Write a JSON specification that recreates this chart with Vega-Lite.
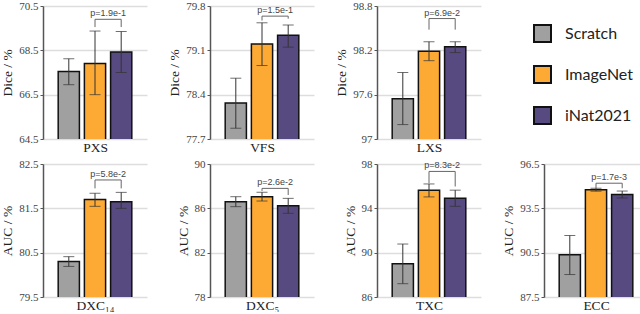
{
"$schema":"https://vega.github.io/schema/vega-lite/v6.json",
"background":"white",
"padding":{"left":0,"top":0,"right":0,"bottom":0},
"datasets":{
"bars":[
{"panel":"PXS","model":"Scratch","value":67.55,"lo":66.95,"hi":68.12},
{"panel":"PXS","model":"ImageNet","value":67.91,"lo":66.5,"hi":69.37},
{"panel":"PXS","model":"iNat2021","value":68.42,"lo":67.5,"hi":69.35},
{"panel":"VFS","model":"Scratch","value":78.27,"lo":77.87,"hi":78.66},
{"panel":"VFS","model":"ImageNet","value":79.2,"lo":78.86,"hi":79.535},
{"panel":"VFS","model":"iNat2021","value":79.34,"lo":79.15,"hi":79.5},
{"panel":"LXS","model":"Scratch","value":97.546,"lo":97.195,"hi":97.9},
{"panel":"LXS","model":"ImageNet","value":98.186,"lo":98.06,"hi":98.316},
{"panel":"LXS","model":"iNat2021","value":98.25,"lo":98.17,"hi":98.316},
{"panel":"DXC14","model":"Scratch","value":80.3,"lo":80.19,"hi":80.41},
{"panel":"DXC14","model":"ImageNet","value":81.7,"lo":81.545,"hi":81.84},
{"panel":"DXC14","model":"iNat2021","value":81.65,"lo":81.5,"hi":81.86},
{"panel":"DXC5","model":"Scratch","value":86.6,"lo":86.15,"hi":87.05},
{"panel":"DXC5","model":"ImageNet","value":87.05,"lo":86.66,"hi":87.45},
{"panel":"DXC5","model":"iNat2021","value":86.24,"lo":85.55,"hi":86.9},
{"panel":"TXC","model":"Scratch","value":89.0,"lo":87.2,"hi":90.78},
{"panel":"TXC","model":"ImageNet","value":95.64,"lo":95.03,"hi":96.2},
{"panel":"TXC","model":"iNat2021","value":94.9,"lo":94.18,"hi":95.64},
{"panel":"ECC","model":"Scratch","value":90.36,"lo":89.02,"hi":91.66},
{"panel":"ECC","model":"ImageNet","value":94.75,"lo":94.66,"hi":94.86},
{"panel":"ECC","model":"iNat2021","value":94.43,"lo":94.2,"hi":94.67}
],
"br":[
{"panel":"PXS","model":"ImageNet","y":69.55,"k":1},{"panel":"PXS","model":"ImageNet","y":69.9,"k":2},{"panel":"PXS","model":"iNat2021","y":69.9,"k":3},{"panel":"PXS","model":"iNat2021","y":69.55,"k":4},
{"panel":"VFS","model":"ImageNet","y":79.57,"k":1},{"panel":"VFS","model":"ImageNet","y":79.64,"k":2},{"panel":"VFS","model":"iNat2021","y":79.64,"k":3},{"panel":"VFS","model":"iNat2021","y":79.6,"k":4},
{"panel":"LXS","model":"ImageNet","y":98.48,"k":1},{"panel":"LXS","model":"ImageNet","y":98.63,"k":2},{"panel":"LXS","model":"iNat2021","y":98.63,"k":3},{"panel":"LXS","model":"iNat2021","y":98.48,"k":4},
{"panel":"DXC14","model":"ImageNet","y":81.95,"k":1},{"panel":"DXC14","model":"ImageNet","y":82.14,"k":2},{"panel":"DXC14","model":"iNat2021","y":82.14,"k":3},{"panel":"DXC14","model":"iNat2021","y":81.95,"k":4},
{"panel":"DXC5","model":"ImageNet","y":87.57,"k":1},{"panel":"DXC5","model":"ImageNet","y":87.8,"k":2},{"panel":"DXC5","model":"iNat2021","y":87.8,"k":3},{"panel":"DXC5","model":"iNat2021","y":87.2,"k":4},
{"panel":"TXC","model":"ImageNet","y":96.27,"k":1},{"panel":"TXC","model":"ImageNet","y":97.33,"k":2},{"panel":"TXC","model":"iNat2021","y":97.33,"k":3},{"panel":"TXC","model":"iNat2021","y":95.97,"k":4},
{"panel":"ECC","model":"ImageNet","y":94.86,"k":1},{"panel":"ECC","model":"ImageNet","y":95.2,"k":2},{"panel":"ECC","model":"iNat2021","y":95.2,"k":3},{"panel":"ECC","model":"iNat2021","y":94.86,"k":4}
],
"pv":[
{"panel":"PXS","model":"ImageNet","y":69.9,"p":"p=1.9e-1"},
{"panel":"VFS","model":"ImageNet","y":79.64,"p":"p=1.5e-1"},
{"panel":"LXS","model":"ImageNet","y":98.63,"p":"p=6.9e-2"},
{"panel":"DXC14","model":"ImageNet","y":82.14,"p":"p=5.8e-2"},
{"panel":"DXC5","model":"ImageNet","y":87.8,"p":"p=2.6e-2"},
{"panel":"TXC","model":"ImageNet","y":97.33,"p":"p=8.3e-2"},
{"panel":"ECC","model":"ImageNet","y":95.2,"p":"p=1.7e-3"}
]
},
"spacing":4,
"vconcat":[
{"bounds":"flush","spacing":63,"hconcat":[
{"width":104,"height":133,"layer":[
{"data":{"name":"bars"},"transform":[{"filter":"datum.panel==='PXS'"}],"mark":{"type":"bar","clip":true,"stroke":"#111","strokeWidth":1.5},"encoding":{"x":{"field":"model","type":"nominal","sort":["Scratch","ImageNet","iNat2021"],"title":"PXS"},"y":{"field":"value","type":"quantitative","scale":{"domain":[64.5,70.5],"nice":false,"zero":false},"axis":{"values":[64.5,66.5,68.5,70.5]},"title":"Dice / %"},"color":{"field":"model","type":"nominal","title":null,"scale":{"domain":["Scratch","ImageNet","iNat2021"],"range":["#a0a0a0","#fdaa34","#574a80"]}}}},
{"data":{"name":"bars"},"transform":[{"filter":"datum.panel==='PXS'"}],"mark":{"type":"rule","color":"#333"},"encoding":{"x":{"field":"model","type":"nominal","sort":["Scratch","ImageNet","iNat2021"]},"y":{"field":"lo","type":"quantitative"},"y2":{"field":"hi"}}},
{"data":{"name":"bars"},"transform":[{"filter":"datum.panel==='PXS'"}],"mark":{"type":"tick","color":"#333","size":11,"thickness":1},"encoding":{"x":{"field":"model","type":"nominal","sort":["Scratch","ImageNet","iNat2021"]},"y":{"field":"lo","type":"quantitative"}}},
{"data":{"name":"bars"},"transform":[{"filter":"datum.panel==='PXS'"}],"mark":{"type":"tick","color":"#333","size":11,"thickness":1},"encoding":{"x":{"field":"model","type":"nominal","sort":["Scratch","ImageNet","iNat2021"]},"y":{"field":"hi","type":"quantitative"}}},
{"data":{"name":"br"},"transform":[{"filter":"datum.panel==='PXS'"}],"mark":{"type":"line","color":"#666","strokeWidth":1},"encoding":{"x":{"field":"model","type":"nominal","sort":["Scratch","ImageNet","iNat2021"]},"y":{"field":"y","type":"quantitative"},"order":{"field":"k","type":"quantitative"}}},
{"data":{"name":"pv"},"transform":[{"filter":"datum.panel==='PXS'"}],"mark":{"type":"text","font":"Liberation Sans","fontSize":9,"baseline":"bottom","dy":-1,"color":"#444"},"encoding":{"x":{"field":"model","type":"nominal","sort":["Scratch","ImageNet","iNat2021"],"bandPosition":1.116},"y":{"field":"y","type":"quantitative"},"text":{"field":"p"}}}
]},
{"width":104,"height":133,"layer":[
{"data":{"name":"bars"},"transform":[{"filter":"datum.panel==='VFS'"}],"mark":{"type":"bar","clip":true,"stroke":"#111","strokeWidth":1.5},"encoding":{"x":{"field":"model","type":"nominal","sort":["Scratch","ImageNet","iNat2021"],"title":"VFS"},"y":{"field":"value","type":"quantitative","scale":{"domain":[77.7,79.8],"nice":false,"zero":false},"axis":{"values":[77.7,78.4,79.1,79.8]},"title":"Dice / %"},"color":{"field":"model","type":"nominal","title":null,"scale":{"domain":["Scratch","ImageNet","iNat2021"],"range":["#a0a0a0","#fdaa34","#574a80"]}}}},
{"data":{"name":"bars"},"transform":[{"filter":"datum.panel==='VFS'"}],"mark":{"type":"rule","color":"#333"},"encoding":{"x":{"field":"model","type":"nominal","sort":["Scratch","ImageNet","iNat2021"]},"y":{"field":"lo","type":"quantitative"},"y2":{"field":"hi"}}},
{"data":{"name":"bars"},"transform":[{"filter":"datum.panel==='VFS'"}],"mark":{"type":"tick","color":"#333","size":11,"thickness":1},"encoding":{"x":{"field":"model","type":"nominal","sort":["Scratch","ImageNet","iNat2021"]},"y":{"field":"lo","type":"quantitative"}}},
{"data":{"name":"bars"},"transform":[{"filter":"datum.panel==='VFS'"}],"mark":{"type":"tick","color":"#333","size":11,"thickness":1},"encoding":{"x":{"field":"model","type":"nominal","sort":["Scratch","ImageNet","iNat2021"]},"y":{"field":"hi","type":"quantitative"}}},
{"data":{"name":"br"},"transform":[{"filter":"datum.panel==='VFS'"}],"mark":{"type":"line","color":"#666","strokeWidth":1},"encoding":{"x":{"field":"model","type":"nominal","sort":["Scratch","ImageNet","iNat2021"]},"y":{"field":"y","type":"quantitative"},"order":{"field":"k","type":"quantitative"}}},
{"data":{"name":"pv"},"transform":[{"filter":"datum.panel==='VFS'"}],"mark":{"type":"text","font":"Liberation Sans","fontSize":9,"baseline":"bottom","dy":-1,"color":"#444"},"encoding":{"x":{"field":"model","type":"nominal","sort":["Scratch","ImageNet","iNat2021"],"bandPosition":1.116},"y":{"field":"y","type":"quantitative"},"text":{"field":"p"}}}
]},
{"width":104,"height":133,"layer":[
{"data":{"name":"bars"},"transform":[{"filter":"datum.panel==='LXS'"}],"mark":{"type":"bar","clip":true,"stroke":"#111","strokeWidth":1.5},"encoding":{"x":{"field":"model","type":"nominal","sort":["Scratch","ImageNet","iNat2021"],"title":"LXS"},"y":{"field":"value","type":"quantitative","scale":{"domain":[97,98.8],"nice":false,"zero":false},"axis":{"values":[97,97.6,98.2,98.8]},"title":"Dice / %"},"color":{"field":"model","type":"nominal","title":null,"scale":{"domain":["Scratch","ImageNet","iNat2021"],"range":["#a0a0a0","#fdaa34","#574a80"]}}}},
{"data":{"name":"bars"},"transform":[{"filter":"datum.panel==='LXS'"}],"mark":{"type":"rule","color":"#333"},"encoding":{"x":{"field":"model","type":"nominal","sort":["Scratch","ImageNet","iNat2021"]},"y":{"field":"lo","type":"quantitative"},"y2":{"field":"hi"}}},
{"data":{"name":"bars"},"transform":[{"filter":"datum.panel==='LXS'"}],"mark":{"type":"tick","color":"#333","size":11,"thickness":1},"encoding":{"x":{"field":"model","type":"nominal","sort":["Scratch","ImageNet","iNat2021"]},"y":{"field":"lo","type":"quantitative"}}},
{"data":{"name":"bars"},"transform":[{"filter":"datum.panel==='LXS'"}],"mark":{"type":"tick","color":"#333","size":11,"thickness":1},"encoding":{"x":{"field":"model","type":"nominal","sort":["Scratch","ImageNet","iNat2021"]},"y":{"field":"hi","type":"quantitative"}}},
{"data":{"name":"br"},"transform":[{"filter":"datum.panel==='LXS'"}],"mark":{"type":"line","color":"#666","strokeWidth":1},"encoding":{"x":{"field":"model","type":"nominal","sort":["Scratch","ImageNet","iNat2021"]},"y":{"field":"y","type":"quantitative"},"order":{"field":"k","type":"quantitative"}}},
{"data":{"name":"pv"},"transform":[{"filter":"datum.panel==='LXS'"}],"mark":{"type":"text","font":"Liberation Sans","fontSize":9,"baseline":"bottom","dy":-1,"color":"#444"},"encoding":{"x":{"field":"model","type":"nominal","sort":["Scratch","ImageNet","iNat2021"],"bandPosition":1.116},"y":{"field":"y","type":"quantitative"},"text":{"field":"p"}}}
]}
]},
{"bounds":"flush","spacing":63,"hconcat":[
{"width":104,"height":133,"layer":[
{"data":{"name":"bars"},"transform":[{"filter":"datum.panel==='DXC14'"}],"mark":{"type":"bar","clip":true,"stroke":"#111","strokeWidth":1.5},"encoding":{"x":{"field":"model","type":"nominal","sort":["Scratch","ImageNet","iNat2021"],"title":"DXC₁₄"},"y":{"field":"value","type":"quantitative","scale":{"domain":[79.5,82.5],"nice":false,"zero":false},"axis":{"values":[79.5,80.5,81.5,82.5]},"title":"AUC / %"},"color":{"field":"model","type":"nominal","title":null,"scale":{"domain":["Scratch","ImageNet","iNat2021"],"range":["#a0a0a0","#fdaa34","#574a80"]}}}},
{"data":{"name":"bars"},"transform":[{"filter":"datum.panel==='DXC14'"}],"mark":{"type":"rule","color":"#333"},"encoding":{"x":{"field":"model","type":"nominal","sort":["Scratch","ImageNet","iNat2021"]},"y":{"field":"lo","type":"quantitative"},"y2":{"field":"hi"}}},
{"data":{"name":"bars"},"transform":[{"filter":"datum.panel==='DXC14'"}],"mark":{"type":"tick","color":"#333","size":11,"thickness":1},"encoding":{"x":{"field":"model","type":"nominal","sort":["Scratch","ImageNet","iNat2021"]},"y":{"field":"lo","type":"quantitative"}}},
{"data":{"name":"bars"},"transform":[{"filter":"datum.panel==='DXC14'"}],"mark":{"type":"tick","color":"#333","size":11,"thickness":1},"encoding":{"x":{"field":"model","type":"nominal","sort":["Scratch","ImageNet","iNat2021"]},"y":{"field":"hi","type":"quantitative"}}},
{"data":{"name":"br"},"transform":[{"filter":"datum.panel==='DXC14'"}],"mark":{"type":"line","color":"#666","strokeWidth":1},"encoding":{"x":{"field":"model","type":"nominal","sort":["Scratch","ImageNet","iNat2021"]},"y":{"field":"y","type":"quantitative"},"order":{"field":"k","type":"quantitative"}}},
{"data":{"name":"pv"},"transform":[{"filter":"datum.panel==='DXC14'"}],"mark":{"type":"text","font":"Liberation Sans","fontSize":9,"baseline":"bottom","dy":-1,"color":"#444"},"encoding":{"x":{"field":"model","type":"nominal","sort":["Scratch","ImageNet","iNat2021"],"bandPosition":1.116},"y":{"field":"y","type":"quantitative"},"text":{"field":"p"}}}
]},
{"width":104,"height":133,"layer":[
{"data":{"name":"bars"},"transform":[{"filter":"datum.panel==='DXC5'"}],"mark":{"type":"bar","clip":true,"stroke":"#111","strokeWidth":1.5},"encoding":{"x":{"field":"model","type":"nominal","sort":["Scratch","ImageNet","iNat2021"],"title":"DXC₅"},"y":{"field":"value","type":"quantitative","scale":{"domain":[78,90],"nice":false,"zero":false},"axis":{"values":[78,82,86,90]},"title":"AUC / %"},"color":{"field":"model","type":"nominal","title":null,"scale":{"domain":["Scratch","ImageNet","iNat2021"],"range":["#a0a0a0","#fdaa34","#574a80"]}}}},
{"data":{"name":"bars"},"transform":[{"filter":"datum.panel==='DXC5'"}],"mark":{"type":"rule","color":"#333"},"encoding":{"x":{"field":"model","type":"nominal","sort":["Scratch","ImageNet","iNat2021"]},"y":{"field":"lo","type":"quantitative"},"y2":{"field":"hi"}}},
{"data":{"name":"bars"},"transform":[{"filter":"datum.panel==='DXC5'"}],"mark":{"type":"tick","color":"#333","size":11,"thickness":1},"encoding":{"x":{"field":"model","type":"nominal","sort":["Scratch","ImageNet","iNat2021"]},"y":{"field":"lo","type":"quantitative"}}},
{"data":{"name":"bars"},"transform":[{"filter":"datum.panel==='DXC5'"}],"mark":{"type":"tick","color":"#333","size":11,"thickness":1},"encoding":{"x":{"field":"model","type":"nominal","sort":["Scratch","ImageNet","iNat2021"]},"y":{"field":"hi","type":"quantitative"}}},
{"data":{"name":"br"},"transform":[{"filter":"datum.panel==='DXC5'"}],"mark":{"type":"line","color":"#666","strokeWidth":1},"encoding":{"x":{"field":"model","type":"nominal","sort":["Scratch","ImageNet","iNat2021"]},"y":{"field":"y","type":"quantitative"},"order":{"field":"k","type":"quantitative"}}},
{"data":{"name":"pv"},"transform":[{"filter":"datum.panel==='DXC5'"}],"mark":{"type":"text","font":"Liberation Sans","fontSize":9,"baseline":"bottom","dy":-1,"color":"#444"},"encoding":{"x":{"field":"model","type":"nominal","sort":["Scratch","ImageNet","iNat2021"],"bandPosition":1.116},"y":{"field":"y","type":"quantitative"},"text":{"field":"p"}}}
]},
{"width":104,"height":133,"layer":[
{"data":{"name":"bars"},"transform":[{"filter":"datum.panel==='TXC'"}],"mark":{"type":"bar","clip":true,"stroke":"#111","strokeWidth":1.5},"encoding":{"x":{"field":"model","type":"nominal","sort":["Scratch","ImageNet","iNat2021"],"title":"TXC"},"y":{"field":"value","type":"quantitative","scale":{"domain":[86,98],"nice":false,"zero":false},"axis":{"values":[86,90,94,98]},"title":"AUC / %"},"color":{"field":"model","type":"nominal","title":null,"scale":{"domain":["Scratch","ImageNet","iNat2021"],"range":["#a0a0a0","#fdaa34","#574a80"]}}}},
{"data":{"name":"bars"},"transform":[{"filter":"datum.panel==='TXC'"}],"mark":{"type":"rule","color":"#333"},"encoding":{"x":{"field":"model","type":"nominal","sort":["Scratch","ImageNet","iNat2021"]},"y":{"field":"lo","type":"quantitative"},"y2":{"field":"hi"}}},
{"data":{"name":"bars"},"transform":[{"filter":"datum.panel==='TXC'"}],"mark":{"type":"tick","color":"#333","size":11,"thickness":1},"encoding":{"x":{"field":"model","type":"nominal","sort":["Scratch","ImageNet","iNat2021"]},"y":{"field":"lo","type":"quantitative"}}},
{"data":{"name":"bars"},"transform":[{"filter":"datum.panel==='TXC'"}],"mark":{"type":"tick","color":"#333","size":11,"thickness":1},"encoding":{"x":{"field":"model","type":"nominal","sort":["Scratch","ImageNet","iNat2021"]},"y":{"field":"hi","type":"quantitative"}}},
{"data":{"name":"br"},"transform":[{"filter":"datum.panel==='TXC'"}],"mark":{"type":"line","color":"#666","strokeWidth":1},"encoding":{"x":{"field":"model","type":"nominal","sort":["Scratch","ImageNet","iNat2021"]},"y":{"field":"y","type":"quantitative"},"order":{"field":"k","type":"quantitative"}}},
{"data":{"name":"pv"},"transform":[{"filter":"datum.panel==='TXC'"}],"mark":{"type":"text","font":"Liberation Sans","fontSize":9,"baseline":"bottom","dy":-1,"color":"#444"},"encoding":{"x":{"field":"model","type":"nominal","sort":["Scratch","ImageNet","iNat2021"],"bandPosition":1.116},"y":{"field":"y","type":"quantitative"},"text":{"field":"p"}}}
]},
{"width":104,"height":133,"layer":[
{"data":{"name":"bars"},"transform":[{"filter":"datum.panel==='ECC'"}],"mark":{"type":"bar","clip":true,"stroke":"#111","strokeWidth":1.5},"encoding":{"x":{"field":"model","type":"nominal","sort":["Scratch","ImageNet","iNat2021"],"title":"ECC"},"y":{"field":"value","type":"quantitative","scale":{"domain":[87.5,96.5],"nice":false,"zero":false},"axis":{"values":[87.5,90.5,93.5,96.5]},"title":"AUC / %"},"color":{"field":"model","type":"nominal","title":null,"scale":{"domain":["Scratch","ImageNet","iNat2021"],"range":["#a0a0a0","#fdaa34","#574a80"]}}}},
{"data":{"name":"bars"},"transform":[{"filter":"datum.panel==='ECC'"}],"mark":{"type":"rule","color":"#333"},"encoding":{"x":{"field":"model","type":"nominal","sort":["Scratch","ImageNet","iNat2021"]},"y":{"field":"lo","type":"quantitative"},"y2":{"field":"hi"}}},
{"data":{"name":"bars"},"transform":[{"filter":"datum.panel==='ECC'"}],"mark":{"type":"tick","color":"#333","size":11,"thickness":1},"encoding":{"x":{"field":"model","type":"nominal","sort":["Scratch","ImageNet","iNat2021"]},"y":{"field":"lo","type":"quantitative"}}},
{"data":{"name":"bars"},"transform":[{"filter":"datum.panel==='ECC'"}],"mark":{"type":"tick","color":"#333","size":11,"thickness":1},"encoding":{"x":{"field":"model","type":"nominal","sort":["Scratch","ImageNet","iNat2021"]},"y":{"field":"hi","type":"quantitative"}}},
{"data":{"name":"br"},"transform":[{"filter":"datum.panel==='ECC'"}],"mark":{"type":"line","color":"#666","strokeWidth":1},"encoding":{"x":{"field":"model","type":"nominal","sort":["Scratch","ImageNet","iNat2021"]},"y":{"field":"y","type":"quantitative"},"order":{"field":"k","type":"quantitative"}}},
{"data":{"name":"pv"},"transform":[{"filter":"datum.panel==='ECC'"}],"mark":{"type":"text","font":"Liberation Sans","fontSize":9,"baseline":"bottom","dy":-1,"color":"#444"},"encoding":{"x":{"field":"model","type":"nominal","sort":["Scratch","ImageNet","iNat2021"],"bandPosition":1.116},"y":{"field":"y","type":"quantitative"},"text":{"field":"p"}}}
]}
]}
],
"resolve":{"scale":{"color":"shared"},"legend":{"color":"shared"}},
"config":{
"view":{"stroke":null},
"scale":{"bandPaddingInner":0.19,"bandPaddingOuter":0.58},
"axis":{"labelFont":"Liberation Serif","labelFontSize":11,"labelColor":"#444","titleFont":"Liberation Serif","titleFontSize":13.5,"titleFontWeight":"normal","titleColor":"#222","domainColor":"#555","tickColor":"#555","gridColor":"#dddddd","gridWidth":1.5},
"axisX":{"domain":false,"ticks":false,"labels":false,"grid":false,"titlePadding":1},
"axisY":{"grid":true,"tickSize":3,"domainWidth":1.5,"labelPadding":2,"titlePadding":4,"labelExpr":"'' + datum.value"},
"legend":{"orient":"none","legendX":490,"legendY":18,"symbolType":"square","symbolSize":289,"symbolStrokeColor":"#111","symbolStrokeWidth":2,"symbolOpacity":1,"labelFont":"Lato","labelFontSize":16,"labelColor":"#222","rowPadding":16,"labelOffset":13}
}
}
